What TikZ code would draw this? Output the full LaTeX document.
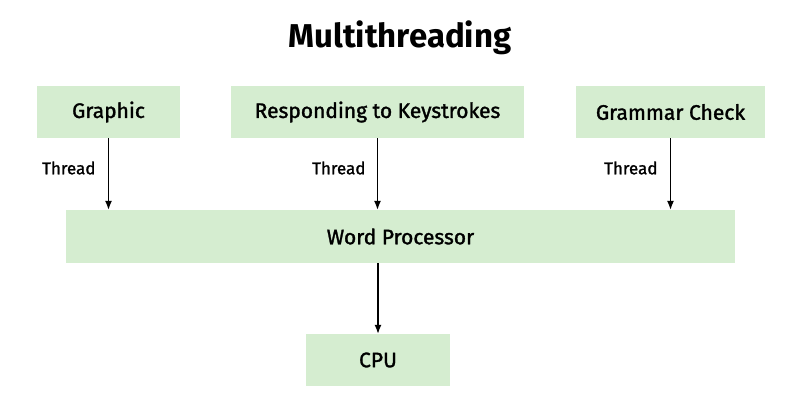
\documentclass[tikz,border=0pt]{standalone}
\usepackage{fontspec}
\usetikzlibrary{arrows.meta}
\setmainfont{Fira Sans}
\newfontfamily\semi{Fira Sans}[FakeBold=1.5]
\definecolor{boxg}{HTML}{D5EDD0}
\begin{document}
\begin{tikzpicture}[x=1pt,y=-1pt,
 box/.style={fill=boxg,draw=none,inner sep=0pt,font=\fontsize{21}{25}\selectfont\semi},
 arr/.style={-{Latex[length=9pt,width=7pt]},line width=1.3pt},
 lab/.style={font=\fontsize{17}{20}\selectfont\semi,anchor=east}]
\useasboundingbox[fill=white] (0,0) rectangle (800,400);
\node[font=\fontsize{33}{38}\selectfont\bfseries] (t) at (400,38) {Multithreading};
\node[box,minimum width=143,minimum height=52] (g) at (108.5,112) {Graphic};
\node[box,minimum width=293,minimum height=52] (r) at (377.5,112) {Responding to Keystrokes};
\node[box,minimum width=189,minimum height=52] (gc) at (670.5,112) {Grammar Check};
\node[box,minimum width=669,minimum height=53] (w) at (400.5,236.5) {Word Processor};
\node[box,minimum width=144,minimum height=52] (c) at (378,360) {CPU};
\draw[arr] (g.south) -- (g.south|-w.north);
\draw[arr] (r.south) -- (r.south|-w.north);
\draw[arr] (gc.south) -- (gc.south|-w.north);
\draw[arr] (w.south-|c.north) -- (c.north);
\node[lab] (l1) at (99,168) {Thread};
\node[lab] (l2) at (369,168) {Thread};
\node[lab] (l3) at (661,168) {Thread};
\end{tikzpicture}
\end{document}
